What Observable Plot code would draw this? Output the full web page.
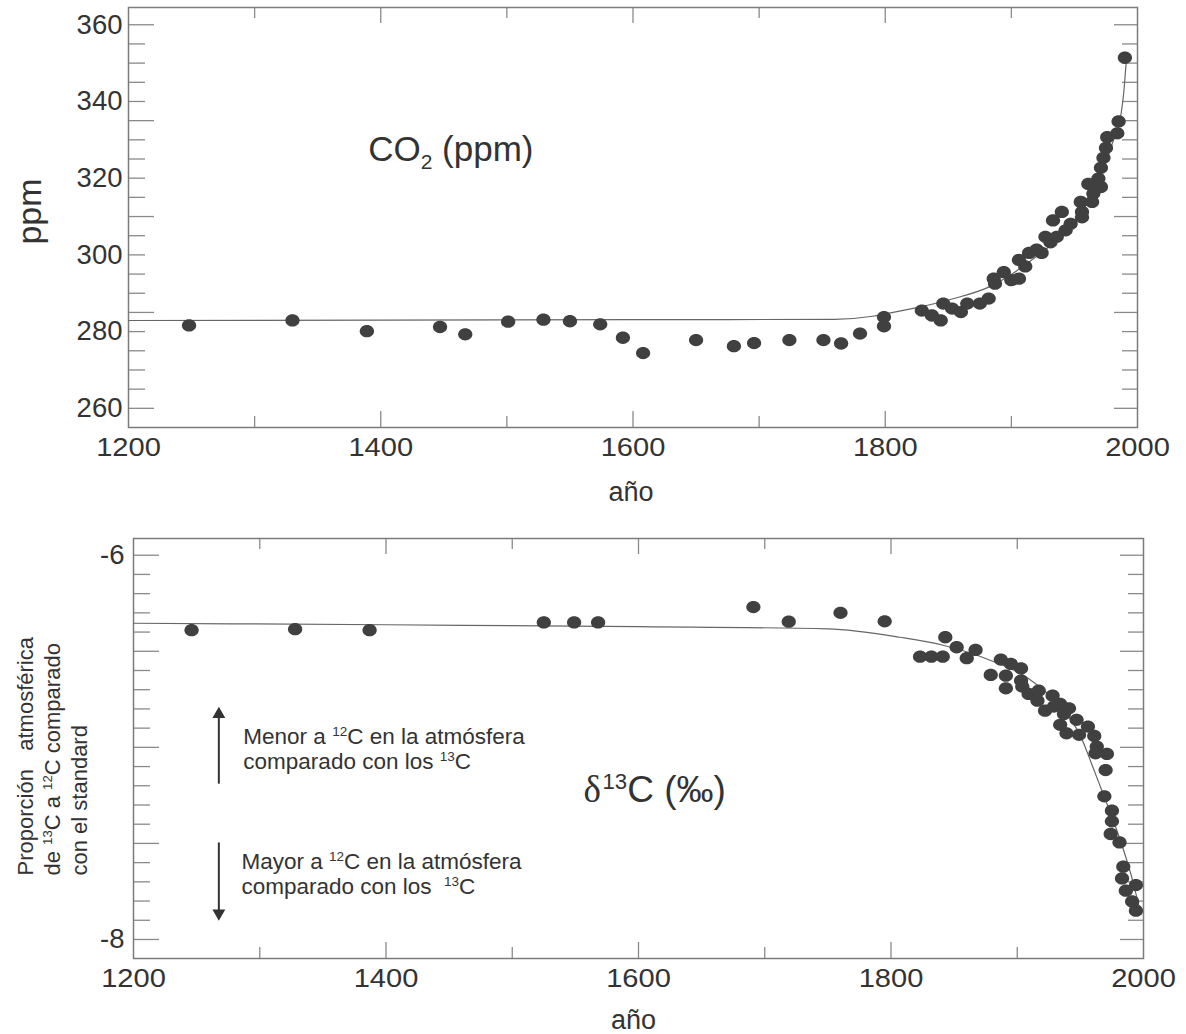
<!DOCTYPE html>
<html>
<head>
<meta charset="utf-8">
<script src="https://cdn.jsdelivr.net/npm/d3@7"></script>
<script src="https://cdn.jsdelivr.net/npm/@observablehq/plot@0.6"></script>
<style>
  html, body { margin: 0; padding: 0; background: #fff; }
  #chart svg { display: block; }
</style>
</head>
<body>
<div id="chart"></div>
<script>
// ---------- data ----------
const xTickLabels = [1200, 1400, 1600, 1800, 2000];
const co2TickLabels = [260, 280, 300, 320, 340, 360];
const d13cTickLabels = [-8, -6];

const co2Years = [1248, 1330, 1389, 1447, 1467, 1501, 1529, 1550, 1574, 1592, 1608, 1650, 1680, 1696, 1724, 1751, 1765, 1780,
  1799, 1799, 1829, 1837, 1844, 1846, 1853, 1860, 1865, 1875, 1882, 1886, 1887, 1894, 1900, 1906, 1906, 1911, 1914, 1920,
  1924, 1927, 1931, 1933, 1936, 1940, 1943, 1947, 1955, 1956, 1956, 1961, 1964, 1965, 1969, 1971, 1971, 1973, 1975, 1976,
  1984, 1985, 1990];
const co2Ppm = [281.6, 282.9, 280.1, 281.2, 279.3, 282.6, 283.1, 282.7, 281.9, 278.4, 274.4, 277.8, 276.2, 277.0, 277.8, 277.8, 276.9, 279.5,
  283.8, 281.4, 285.5, 284.2, 282.9, 287.3, 286.0, 285.1, 287.3, 287.3, 288.6, 293.8, 292.5, 295.5, 293.4, 293.8, 298.7, 297.0, 300.5, 301.4,
  300.5, 304.7, 303.3, 309.0, 304.7, 311.2, 306.4, 308.1, 313.8, 309.8, 311.2, 318.5, 313.8, 316.0, 319.9, 317.7, 322.7, 325.3, 327.9, 330.7,
  331.7, 334.8, 351.4];

const co2FitYears = [1200, 1400, 1600, 1760, 1790, 1800, 1826, 1853, 1882, 1919, 1946, 1967, 1980, 1987, 1989, 1991, 1992];
const co2FitPpm = [282.9, 283.0, 283.1, 283.2, 284.0, 284.6, 286.3, 288.5, 291.6, 299.4, 307.2, 317.7, 329.0, 336.8, 342.0, 349.8, 352.5];

const d13cYears = [1246, 1328, 1387, 1525, 1549, 1568, 1691, 1719, 1760, 1795, 1823, 1832, 1841, 1843, 1852, 1860, 1867, 1879,
  1887, 1891, 1891, 1895, 1903, 1903, 1904, 1909, 1917, 1916, 1922, 1928, 1929, 1934, 1941, 1937, 1934, 1939, 1947, 1949,
  1956, 1961, 1963, 1962, 1971, 1970, 1969, 1975, 1975, 1974, 1981, 1984, 1983, 1994, 1986, 1991, 1994];
const d13cValues = [-6.39, -6.385, -6.39, -6.35, -6.35, -6.35, -6.27, -6.346, -6.30, -6.344, -6.528, -6.528, -6.528, -6.427, -6.479, -6.536, -6.493, -6.623,
  -6.543, -6.627, -6.693, -6.566, -6.589, -6.653, -6.684, -6.722, -6.705, -6.757, -6.809, -6.731, -6.788, -6.774, -6.797, -6.826, -6.883, -6.927, -6.857, -6.935,
  -6.892, -6.941, -6.996, -7.031, -7.034, -7.118, -7.255, -7.33, -7.385, -7.451, -7.495, -7.621, -7.682, -7.717, -7.746, -7.802, -7.85];

const d13cFitYears = [1200, 1400, 1600, 1750, 1807, 1842, 1876, 1913, 1939, 1950, 1958, 1967, 1979, 1990, 1996, 1998];
const d13cFitValues = [-6.354, -6.362, -6.372, -6.383, -6.427, -6.47, -6.54, -6.661, -6.826, -6.939, -7.07, -7.225, -7.434, -7.66, -7.816, -7.87];

// ---------- tables built from the arrays ----------
const co2Points = co2Years.map((x, i) => ({x, y: co2Ppm[i]}));
const co2Fit = co2FitYears.map((x, i) => ({x, y: co2FitPpm[i]}));
const d13cPoints = d13cYears.map((x, i) => ({x, y: d13cValues[i]}));
const d13cFit = d13cFitYears.map((x, i) => ({x, y: d13cFitValues[i]}));

// ---------- styles ----------
const FONT = "'Liberation Sans', Arial, Helvetica, sans-serif";
const frameGray = "#7b7b7b";
const tickGray = "#8a8a8a";
const dotColor = "#404040";
const lineColor = "#666666";
const textColor = "#333333";

// slightly wide ellipse symbol for the data dots
const ellipse = {
  draw(ctx, size) {
    const r = Math.sqrt(size / Math.PI), rx = r * 1.08, ry = r * 0.93, k = 0.5523;
    ctx.moveTo(rx, 0);
    ctx.bezierCurveTo(rx, ry * k, rx * k, ry, 0, ry);
    ctx.bezierCurveTo(-rx * k, ry, -rx, ry * k, -rx, 0);
    ctx.bezierCurveTo(-rx, -ry * k, -rx * k, -ry, 0, -ry);
    ctx.bezierCurveTo(rx * k, -ry, rx, -ry * k, rx, 0);
    ctx.closePath();
  }
};

const xMajorTicks = [1400, 1600, 1800];
const xMinorTicks = [1300, 1500, 1700, 1900];

function frameTicks(fw, fh, yMajor, yMinor) {
  const s = {stroke: tickGray, strokeWidth: 1.3};
  return [
    Plot.tickY(yMajor, {y: d => d, ...s, insetRight: fw - 26}),
    Plot.tickY(yMinor, {y: d => d, ...s, insetRight: fw - 17}),
    Plot.tickY(yMajor, {y: d => d, ...s, insetLeft: fw - 23}),
    Plot.tickY(yMinor, {y: d => d, ...s, insetLeft: fw - 15}),
    Plot.tickX(xMajorTicks, {x: d => d, ...s, insetBottom: fh - 16}),
    Plot.tickX(xMinorTicks, {x: d => d, ...s, insetBottom: fh - 11}),
    Plot.tickX(xMajorTicks, {x: d => d, ...s, insetTop: fh - 16}),
    Plot.tickX(xMinorTicks, {x: d => d, ...s, insetTop: fh - 11})
  ];
}

// horizontal (or along-text) stretch of a mark's texts
function stretch(svg, label, sx) {
  svg.querySelectorAll(`g[aria-label="${label}"] text`).forEach(t => {
    const tr = t.getAttribute("transform");
    if (tr) t.setAttribute("transform", `${tr} scale(${sx},1)`);
    else {
      const x = +t.getAttribute("x") || 0;
      t.setAttribute("transform", `translate(${x},0) scale(${sx},1) translate(${-x},0)`);
    }
  });
}

// turn ¹² ¹³ ₂ into real raised/lowered tspans
function scripts(svg) {
  const NS = "http://www.w3.org/2000/svg";
  const map = {"¹²": ["12", "0.58em"], "¹³": ["13", "0.58em"], "₂": ["2", "-0.38em"]};
  svg.querySelectorAll("text, tspan").forEach(el => {
    for (const node of Array.from(el.childNodes)) {
      if (node.nodeType !== 3 || !/[¹₂]/.test(node.nodeValue)) continue;
      const parts = node.nodeValue.split(/(¹²|¹³|₂)/);
      for (const p of parts) {
        if (!p) continue;
        if (map[p]) {
          const t = document.createElementNS(NS, "tspan");
          t.textContent = map[p][0];
          t.setAttribute("style", `font-size:0.6em;baseline-shift:${map[p][1]}`);
          el.insertBefore(t, node);
        } else {
          el.insertBefore(document.createTextNode(p), node);
        }
      }
      el.removeChild(node);
    }
  });
}

// ---------- top panel: CO2 ----------
const W = 1186;
const top1 = {h: 505, mt: 7, mb: 78, ml: 128, mr: 49};
const fw1 = W - top1.ml - top1.mr, fh1 = top1.h - top1.mt - top1.mb;
const co2Major = d3.range(260, 361, 25);
const co2Minor = d3.range(260, 361, 5).filter(v => !co2Major.includes(v));

const plotTop = Plot.plot({
  width: W, height: top1.h,
  marginLeft: top1.ml, marginRight: top1.mr, marginTop: top1.mt, marginBottom: top1.mb,
  x: {domain: [1200, 2000]},
  y: {domain: [255, 364.5]},
  style: {fontFamily: FONT, color: textColor, background: "#fff", overflow: "visible"},
  marks: [
    ...frameTicks(fw1, fh1, co2Major, co2Minor),
    Plot.frame({stroke: frameGray, strokeWidth: 1.5}),
    Plot.line(co2Fit, {x: "x", y: "y", curve: "monotone-x", stroke: lineColor, strokeWidth: 1.2}),
    Plot.dot(co2Points, {x: "x", y: "y", r: 6.6, symbol: ellipse, fill: dotColor, stroke: "none"}),
    Plot.axisY({ticks: co2TickLabels, tickSize: 0, tickPadding: 6, fontSize: 27.5, label: null, tickFormat: d => String(d)}),
    Plot.axisX({ticks: xTickLabels, tickSize: 0, tickPadding: 10, fontSize: 26, label: null, tickFormat: d => String(d)}),
    Plot.text(["ppm"], {text: d => d, frameAnchor: "left", dx: -88, dy: -6, rotate: -90, fontSize: 34,
      textAnchor: "middle", lineAnchor: "bottom", fill: textColor}),
    Plot.text(["CO₂ (ppm)"], {text: d => d, x: 1390, y: 324.6, textAnchor: "start", lineAnchor: "bottom",
      fontSize: 35, fill: textColor, ariaLabel: "co2-title"}),
    Plot.text(["año"], {text: d => d, frameAnchor: "bottom", dx: -2, dy: 73, lineAnchor: "bottom", fontSize: 27, fill: textColor})
  ]
});

// ---------- bottom panel: delta 13C ----------
const bot = {h: 529, mt: 33, mb: 76, ml: 133, mr: 43};
const fw2 = W - bot.ml - bot.mr, fh2 = bot.h - bot.mt - bot.mb;
const dMajor = [-8, -7.5, -7, -6.5, -6];
const dMinor = d3.range(-80, -59).map(i => i / 10).filter(v => !dMajor.includes(v));

const plotBottom = Plot.plot({
  width: W, height: bot.h,
  marginLeft: bot.ml, marginRight: bot.mr, marginTop: bot.mt, marginBottom: bot.mb,
  x: {domain: [1200, 2000]},
  y: {domain: [-8.099, -5.913]},
  style: {fontFamily: FONT, color: textColor, background: "#fff", overflow: "visible"},
  marks: [
    ...frameTicks(fw2, fh2, dMajor, dMinor),
    Plot.frame({stroke: frameGray, strokeWidth: 1.5}),
    Plot.line(d13cFit, {x: "x", y: "y", curve: "monotone-x", stroke: lineColor, strokeWidth: 1.2}),
    Plot.dot(d13cPoints, {x: "x", y: "y", r: 6.6, symbol: ellipse, fill: dotColor, stroke: "none"}),
    Plot.axisY({ticks: d13cTickLabels, tickSize: 0, tickPadding: 9, fontSize: 27.5, label: null, tickFormat: d => String(d)}),
    Plot.axisX({ticks: xTickLabels, tickSize: 0, tickPadding: 10, fontSize: 26, label: null, tickFormat: d => String(d)}),
    // arrows
    Plot.link([0], {x1: 1267.6, x2: 1267.6, y1: -7.189, y2: -6.84, stroke: "#333", strokeWidth: 2}),
    Plot.dot([0], {x: 1267.6, y: -6.828, symbol: "triangle", r: 4.8, fill: "#333", stroke: "none"}),
    Plot.link([0], {x1: 1267.6, x2: 1267.6, y1: -7.495, y2: -7.85, stroke: "#333", strokeWidth: 2}),
    Plot.dot([0], {x: 1267.6, y: -7.864, symbol: "triangle", rotate: 180, r: 4.8, fill: "#333", stroke: "none"}),
    // annotations
    Plot.text(["Menor a ¹²C en la atmósfera\ncomparado con los ¹³C"], {text: d => d, x: 1287, y: -7.1125,
      textAnchor: "start", lineAnchor: "bottom", lineHeight: 1.11, fontSize: 22.5, fill: textColor}),
    Plot.text(["Mayor a ¹²C en la atmósfera\ncomparado con los  ¹³C"], {text: d => d, x: 1285.5, y: -7.7636,
      textAnchor: "start", lineAnchor: "bottom", lineHeight: 1.11, fontSize: 22.5, fill: textColor}),
    Plot.text(["δ"], {text: d => d, x: 1556.4, y: -7.2865, textAnchor: "start", lineAnchor: "bottom",
      fontSize: 37, fontFamily: "'Liberation Serif', 'DejaVu Serif', serif", fill: textColor}),
    Plot.text(["¹³C (‰)"], {text: d => d, x: 1571.5, y: -7.2865, textAnchor: "start", lineAnchor: "bottom",
      fontSize: 37, fill: textColor}),
    // rotated y label
    Plot.text(["Proporción   atmosférica\nde ¹³C a ¹²C comparado\ncon el standard"], {text: d => d,
      frameAnchor: "left", dx: -120, dy: 127, rotate: -90, textAnchor: "start", lineAnchor: "top",
      fontSize: 22, lineHeight: 1.24, fill: textColor, ariaLabel: "d13c-ylabel"}),
    Plot.text(["año"], {text: d => d, frameAnchor: "bottom", dx: -5, dy: 70, lineAnchor: "bottom", fontSize: 27, fill: textColor})
  ]
});

const chart = document.getElementById("chart");
chart.appendChild(plotTop);
chart.appendChild(plotBottom);

stretch(plotTop, "x-axis tick label", 1.12);
stretch(plotBottom, "x-axis tick label", 1.12);
stretch(plotTop, "co2-title", 1.12);
stretch(plotBottom, "d13c-ylabel", 0.82);
scripts(plotTop);
scripts(plotBottom);
</script>
</body>
</html>
